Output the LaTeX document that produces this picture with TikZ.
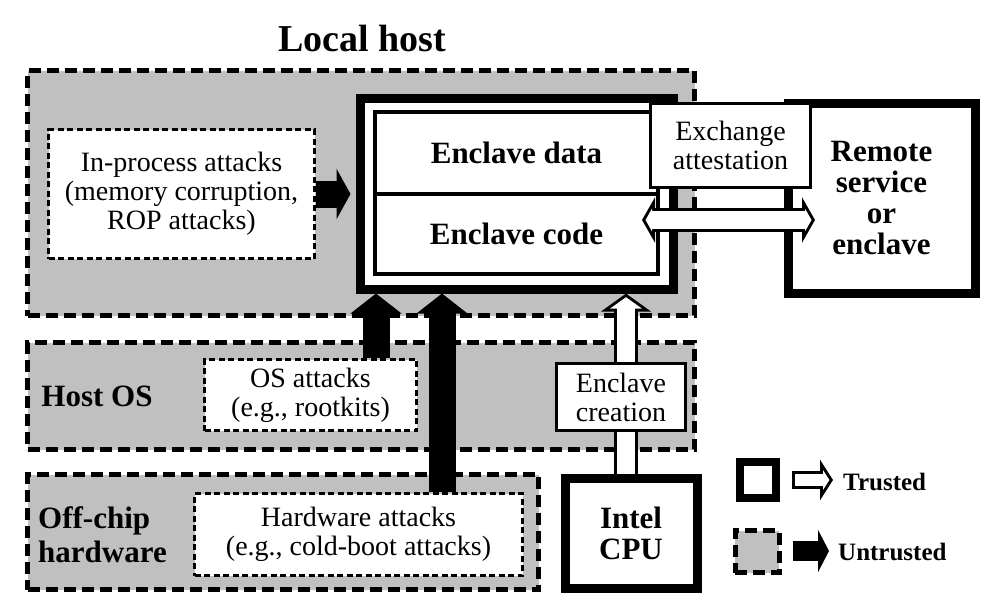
\documentclass[tikz,border=0pt]{standalone}
\usepackage{fontspec}
\setmainfont{Liberation Serif}
\usetikzlibrary{arrows.meta,positioning,calc}
\definecolor{regiongray}{RGB}{192,192,192}
\tikzset{
  region/.style={draw, fill=regiongray, line width=5pt, dash pattern=on 12pt off 6pt, inner sep=0pt},
  atkbox/.style={draw, fill=white, line width=3pt, dash pattern=on 6pt off 3.5pt, inner sep=0pt, align=center, font=\fontsize{28}{29}\selectfont},
  plainbox/.style={draw, fill=white, line width=3pt, inner sep=0pt, align=center, font=\fontsize{28}{29}\selectfont},
  trustbox/.style={draw, fill=white, line width=9pt, inner sep=0pt, align=center, font=\bfseries\fontsize{31}{31}\selectfont},
  encpart/.style={draw, fill=white, line width=4pt, inner sep=0pt, font=\bfseries\fontsize{31}{31}\selectfont},
  boldlbl/.style={inner sep=0pt, align=center, font=\bfseries\fontsize{31}{34}\selectfont},
  legendlbl/.style={inner sep=0pt, anchor=west, font=\bfseries\fontsize{25}{25}\selectfont},
  atkarrow/.style={line width=27pt, -{Triangle[width=50pt,length=#1]}},
  atkarrow/.default=20pt,
  % white block arrows: black outline first, white inside second
  tout/.style n args={3}{line width=#1, -{Triangle[width=#2,length=#3]}},
  tin/.style n args={4}{white, line width=#1, shorten >=#4, -{Triangle[width=#2,length=#3]}},
}
\begin{document}
\begin{tikzpicture}[x=1pt,y=-1pt,line join=miter]
\useasboundingbox (0,0) rectangle (1002,614);
% regions
\node[region, minimum width=667pt, minimum height=245pt] (local) at (361,193) {};
\node[region, minimum width=667pt, minimum height=107pt] (hostos) at (361,396) {};
\node[region, minimum width=511pt, minimum height=115pt] (offchip) at (283,532) {};
\node[boldlbl, font=\bfseries\fontsize{38}{38}\selectfont] (title) at (362,38) {Local host};
\node[boldlbl] (hostoslbl) at (97,396) {Host OS};
\node[boldlbl, anchor=west, align=left] (offchiplbl) at (38,535) {Off-chip\\hardware};

% attacks
\node[atkbox, minimum width=266pt, minimum height=129pt] (inproc) at (181.5,194)
  {In-process attacks\\(memory corruption,\\ROP attacks)};
\node[atkbox, minimum width=212pt, minimum height=71pt] (osatk) at (310.5,395)
  {OS attacks\\(e.g., rootkits)};
\node[atkbox, minimum width=328pt, minimum height=82pt] (hwatk) at (358.5,534.5)
  {Hardware attacks\\(e.g., cold-boot attacks)};

% enclave
\node[trustbox, minimum width=313pt, minimum height=191pt] (enclave) at (516.5,193.5) {};
\node[encpart, minimum width=283pt, minimum height=82pt] (encdata) at (516.5,153) {Enclave data};
\node[encpart, minimum width=283pt, minimum height=80pt] (enccode) at (516.5,234) {Enclave code};
\node[trustbox, minimum width=187pt, minimum height=190pt] (remote) at (881.5,198)
  {Remote\\service\\or\\enclave};
\node[trustbox, minimum width=132pt, minimum height=110pt] (cpu) at (631,533) {Intel\\CPU};

% untrusted arrows
\draw[atkarrow=14pt, shorten >=5pt] (inproc.east) -- (inproc.east -| enclave.west);
\draw[atkarrow] ([xshift=65.5pt]osatk.north) -- ([xshift=65.5pt]osatk.north |- enclave.south);
\draw[atkarrow] ([xshift=83.5pt]hwatk.north) -- ([xshift=83.5pt]hwatk.north |- enclave.south);

% trusted arrow from the CPU
\draw[tout={24pt}{49pt}{18pt}] ([xshift=-5pt]cpu.north) -- ([xshift=-5pt]cpu.north |- enclave.south);
\draw[tin={18pt}{31pt}{11.3pt}{3.7pt}] ([xshift=-5pt]cpu.north) -- ([xshift=-5pt]cpu.north |- enclave.south);
\node[plainbox, minimum width=129pt, minimum height=67pt] (creation) at (621,397) {Enclave\\creation};

\node[plainbox, minimum width=160pt, minimum height=84pt] (exch) at (730.5,145.5) {Exchange\\attestation};

% attestation exchange
\coordinate (xleft) at (642,220);
\coordinate (xright) at (815,220);
\draw[line width=24pt, {Triangle[width=45pt,length=13pt]}-{Triangle[width=45pt,length=13pt]}] (xleft) -- (xright);
\draw[white, line width=18pt, shorten <=3.5pt, shorten >=3.5pt,
  {Triangle[width=22.5pt,length=6.5pt]}-{Triangle[width=22.5pt,length=6.5pt]}] (xleft) -- (xright);

% legend
\node[draw, line width=8pt, fill=white, minimum size=36pt, inner sep=0pt] (trustsq) at (757.5,480) {};
\node[region, minimum width=44pt, minimum height=42pt] (untrustsq) at (757,551.5) {};
\coordinate (tl1) at (792,480);
\coordinate (tl2) at (833,480);
\coordinate (ul1) at (793,551);
\coordinate (ul2) at (829,551);
\draw[tout={18pt}{40pt}{13pt}] (tl1) -- (tl2);
\draw[tin={12pt}{19.7pt}{6.4pt}{3.6pt}] ([xshift=3pt]tl1) -- (tl2);
\draw[line width=20pt, -{Triangle[width=42pt,length=11pt]}] (ul1) -- (ul2);
\node[legendlbl] (trustlbl) at (843,482) {Trusted};
\node[legendlbl] (untrustlbl) at (838,552) {Untrusted};
\end{tikzpicture}
\end{document}
